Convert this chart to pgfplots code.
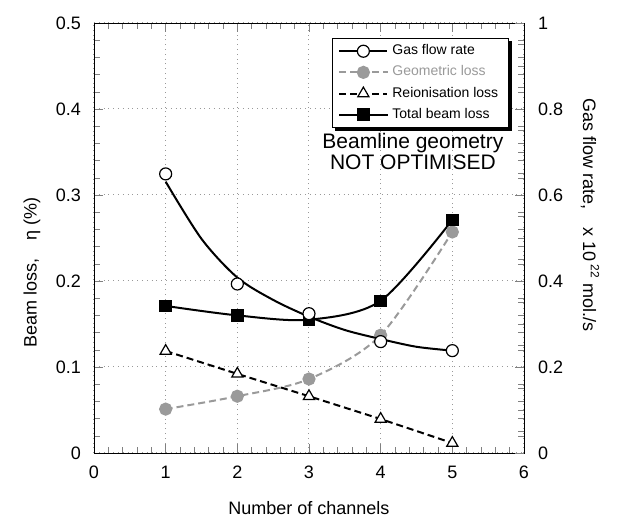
\documentclass[border=0pt]{standalone}
\usepackage{fontspec}
\setmainfont{Liberation Sans}
\usepackage{pgfplots}
\pgfplotsset{compat=1.18}
\definecolor{geogray}{HTML}{9A9A9A}

\pgfplotsset{
  chan/.style={
    width=215pt, height=215pt, scale only axis,
    xmin=0, xmax=6,
    ticklabel style={font=\fontsize{9}{10}\selectfont},
    label style={font=\fontsize{9}{10}\selectfont},
    /pgf/number format/assume math mode=true,
  },
  gasline/.style={black, line width=1pt},
  gasmark/.style={only marks, mark=*, mark size=3pt, mark options={fill=white, draw=black, line width=0.6pt}},
}

\begin{document}
\begin{tikzpicture}
% left axis: beam losses
\begin{axis}[chan,
  at={(0pt,0pt)}, anchor=south west,
  ymin=0, ymax=0.5,
  xtick={0,1,...,6}, ytick={0,0.1,0.2,0.3,0.4,0.5},
  minor x tick num=4, minor y tick num=4,
  grid=major, major grid style={gray!80, dotted, line width=0.5pt},
  xticklabel style={yshift=-3pt},
  yticklabel style={xshift=-3pt},
  xlabel={Number of channels},
  xlabel style={at={(axis description cs:0.5,0)}, anchor=center, yshift=-27.5pt},
  ylabel={Beam loss,\quad η (\%)},
  ylabel style={at={(axis description cs:0,0.42)}, anchor=center, yshift=31pt},
  legend style={at={(0.553,0.965)}, anchor=north west, name=leg,
    font=\fontsize{7}{8}\selectfont, draw=black, line width=0.6pt,
    fill=white, inner xsep=3pt, inner ysep=1pt, row sep=0pt},
  legend cell align=left,
  legend image code/.code={\draw[mark repeat=2, mark phase=2] plot coordinates {(0pt,0pt) (12pt,0pt) (24pt,0pt)};},
]
\addlegendimage{gasline, mark=*, mark size=3pt, mark options={fill=white, draw=black, solid, line width=0.6pt}}
\addlegendentry{Gas flow rate}

\addplot[geogray, line width=1pt, dash pattern=on 3.5pt off 2pt, smooth, tension=0.5,
  mark=*, mark size=2.8pt, mark options={solid, fill=geogray}] coordinates {
  (1,0.051) (2,0.066) (3,0.086) (4,0.137) (5,0.257)
};
\addlegendentry{\textcolor{geogray}{Geometric loss}}

\addplot[black, line width=1pt, dash pattern=on 3.5pt off 2pt,
  mark=triangle*, mark size=3.2pt, mark options={solid, fill=white, line width=0.6pt}] coordinates {
  (1,0.1186) (2,0.092) (3,0.066) (4,0.0395) (5,0.0116)
};
\addlegendentry{Reionisation loss}

\addplot[black, line width=1pt, smooth, tension=0.5,
  mark=square*, mark size=2.6pt] coordinates {
  (1,0.171) (2,0.160) (3,0.155) (4,0.177) (5,0.271)
};
\addlegendentry{Total beam loss}

\node[anchor=south east, font=\fontsize{5.2}{6}\selectfont, inner sep=0pt, xshift=-1pt, yshift=4pt]
  at (rel axis cs:1,1) {ITER-FEAT DDD5.3 Fig. 2.3.1-1, TI mod.};
\node[align=center, font=\fontsize{10.5}{10.5}\selectfont]
  at (axis cs:4.45,0.35) {Beamline geometry\\NOT OPTIMISED};
\end{axis}

% legend shadow
\draw[black, line width=1.6pt]
  ([xshift=1.6pt, yshift=-0.8pt]leg.south west) -- ([xshift=0.8pt, yshift=-0.8pt]leg.south east)
  -- ([xshift=0.8pt, yshift=-1.6pt]leg.north east);

% right axis: gas flow rate
\begin{axis}[chan,
  at={(0pt,0pt)}, anchor=south west,
  ymin=0, ymax=1,
  hide x axis,
  axis y line*=right,
  ytick={0,0.2,0.4,0.6,0.8,1}, minor y tick num=3,
  yticklabel style={xshift=3.5pt},
  ylabel={Gas flow rate,\quad x 10\,\textsuperscript{22} mol./s},
  ylabel style={at={(axis description cs:1,0.553)}, anchor=center, yshift=-33pt, rotate=180},
]
\addplot[gasline, smooth, tension=0.5] coordinates {
  (1,0.631) (1.5,0.498) (2,0.408) (2.5,0.356) (3,0.317) (3.5,0.286) (4,0.265) (4.5,0.247) (5,0.238)
};
\addplot[gasmark] coordinates {
  (1,0.649) (2,0.393) (3,0.324) (4,0.259) (5,0.238)
};
\end{axis}
\path (-47pt,-34pt) rectangle (261.5pt,226.5pt);
\end{tikzpicture}
\end{document}
